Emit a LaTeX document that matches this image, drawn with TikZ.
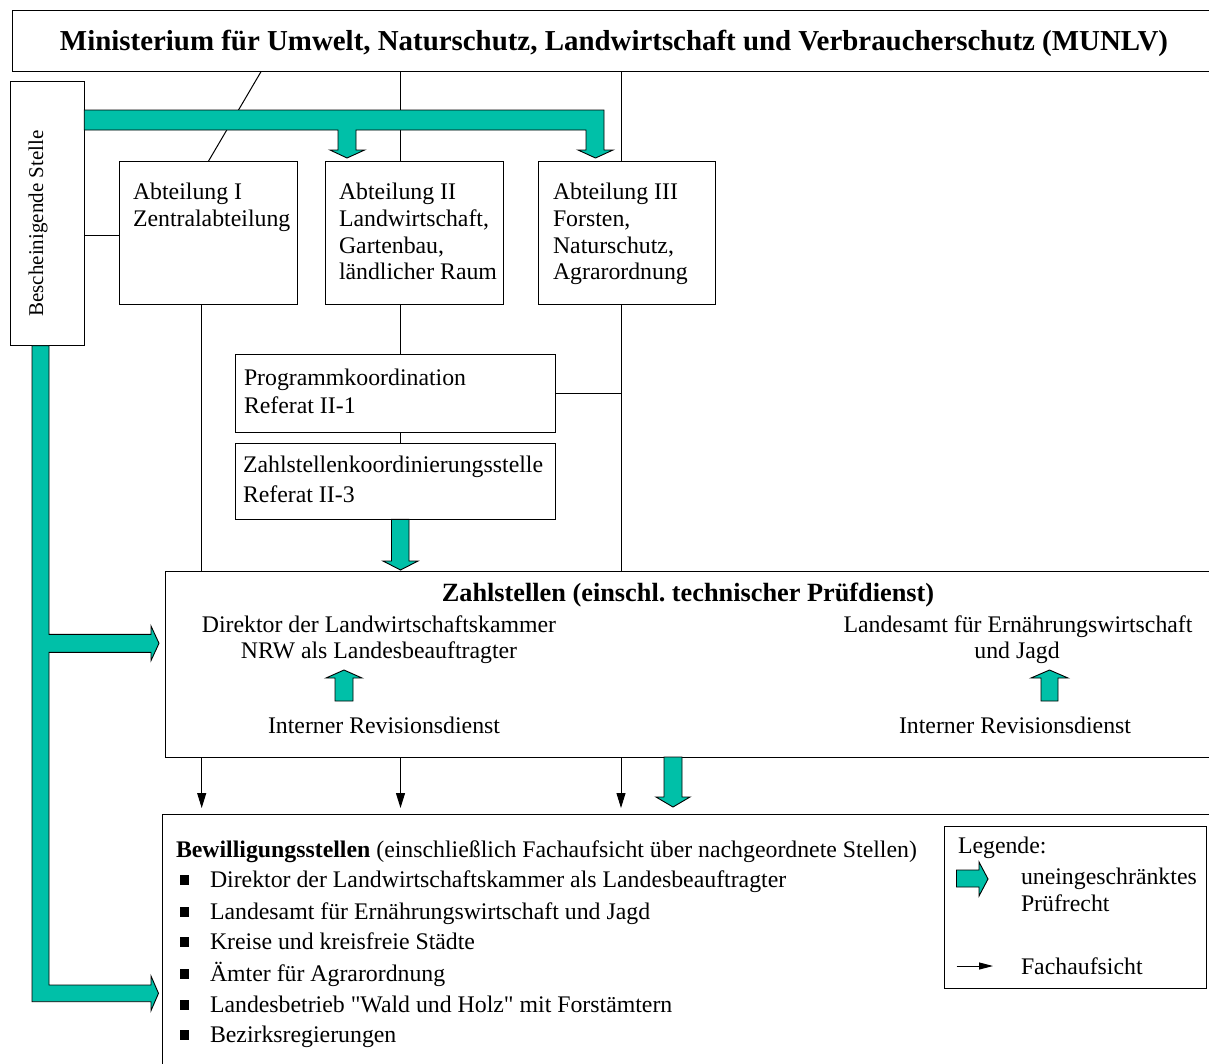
\documentclass[tikz,border=0pt]{standalone}
\usepackage{fontspec}
\setmainfont{Liberation Serif}
\usetikzlibrary{arrows.meta}
\definecolor{tealc}{RGB}{0,192,168}
\newcommand{\straightq}{\XeTeXglyph\XeTeXcharglyph"22\relax}
\begin{document}
\begin{tikzpicture}[x=1pt,y=-1pt,
  box/.style={draw=black, line width=1pt, fill=white, inner sep=0pt, outer sep=0pt, anchor=north west},
  txt/.style={inner sep=0pt, outer sep=0pt, font=\fontsize{23.8}{27}\selectfont},
  ttl/.style={inner sep=0pt, outer sep=0pt, font=\bfseries\fontsize{28.9}{32}\selectfont},
  zst/.style={inner sep=0pt, outer sep=0pt, font=\bfseries\fontsize{26.3}{30}\selectfont},
  rot/.style={inner sep=0pt, outer sep=0pt, font=\fontsize{21}{24}\selectfont},
  bul/.style={fill=black, inner sep=0pt, outer sep=0pt, minimum width=9.5pt, minimum height=10pt},
  ln/.style={line width=1pt},
  fa/.style={line width=1pt, -{Triangle[length=15pt,width=9pt]}},
  ba/.style={fill=tealc, draw=black, line width=0.9pt, line join=miter},
]
\clip (0,0) rectangle (1209,1063);
\fill[white] (0,0) rectangle (1209,1063);

% boxes
\node[box, minimum width=1210pt, minimum height=61pt] (min) at (12.6,10.7) {};
\node[box, minimum width=73.5pt, minimum height=264pt] (bes) at (10.7,81.7) {};
\node[box, minimum width=178pt, minimum height=142.7pt] (a1) at (119,161.3) {};
\node[box, minimum width=178.4pt, minimum height=142.7pt] (a2) at (325,161.3) {};
\node[box, minimum width=177.2pt, minimum height=142.7pt] (a3) at (538.5,161.3) {};
\node[box, minimum width=320.3pt, minimum height=78pt] (pk) at (235.3,354.3) {};
\node[box, minimum width=320.3pt, minimum height=76pt] (zk) at (235.3,443.3) {};
\node[box, minimum width=1050pt, minimum height=185.3pt] (zs) at (165.3,571.7) {};
\node[box, minimum width=1060pt, minimum height=260pt] (bw) at (162,814) {};
\node[box, minimum width=262pt, minimum height=162pt] (lg) at (944,826) {};

% helper coordinates
\coordinate (xA) at (201.7,0);
\coordinate (xB) at (400.5,0);
\coordinate (xC) at (621,0);
\coordinate (dg1) at (261,0);
\coordinate (dg2) at (208.4,0);
\coordinate (yH) at (0,235);

% thin connectors
\draw[ln] (min.south -| dg1) -- (a1.north -| dg2);
\draw[ln] (min.south -| xB) -- (a2.north -| xB);
\draw[ln] (min.south -| xC) -- (a3.north -| xC);
\draw[ln] (bes.east |- yH) -- (a1.west |- yH);
\draw[ln] (a1.south -| xA) -- (zs.north -| xA);
\draw[ln] (a2.south -| xB) -- (pk.north -| xB);
\draw[ln] (pk.south -| xB) -- (zk.north -| xB);
\draw[ln] (pk.east) -- (pk.east -| xC);
\draw[ln] (a3.south -| xC) -- (zs.north -| xC);
\draw[fa, shorten >=6pt] (zs.south -| xA) -- (bw.north -| xA);
\draw[fa, shorten >=6pt] (zs.south -| xB) -- (bw.north -| xB);
\draw[fa, shorten >=6pt] (zs.south -| xC) -- (bw.north -| xC);

% teal block arrows
\filldraw[ba] (84.2,110) -- (604,110) -- (604,150) -- (613,150) -- (595.5,158) -- (578,150) -- (586,150) -- (586,130)
  -- (356,130) -- (356,150) -- (364.6,150) -- (347,158) -- (330,150) -- (338,150) -- (338,130) -- (84.2,130) -- cycle;
\filldraw[ba] (32,345.7) -- (49,345.7) -- (49,634.3) -- (151,634.3) -- (151,626) -- (159,643.3) -- (151,660.6)
  -- (151,652.3) -- (49,652.3) -- (49,985) -- (151,985) -- (151,976) -- (158.5,993.3) -- (151,1010.6)
  -- (151,1001.7) -- (32,1001.7) -- cycle;
\filldraw[ba] (391.5,519.3) -- (409,519.3) -- (409,561) -- (418,561) -- (400.5,570) -- (383,561) -- (391.5,561) -- cycle;
\filldraw[ba] (664,757) -- (682,757) -- (682,797) -- (690,797) -- (673,807) -- (656,797) -- (664,797) -- cycle;
\filldraw[ba] (335,701) -- (353,701) -- (353,678) -- (362,678) -- (344,670) -- (326,678) -- (335,678) -- cycle;
\filldraw[ba] (1041,701) -- (1058,701) -- (1058,678) -- (1068,678) -- (1049.5,670) -- (1031,678) -- (1041,678) -- cycle;
\filldraw[ba] (956.5,870) -- (979,870) -- (979,862) -- (988,879) -- (979,896) -- (979,887) -- (956.5,887) -- cycle;

% legend thin arrow
\coordinate (lf1) at (956.5,966);
\coordinate (lf2) at (993,966);
\draw[ln, -{Triangle[length=14pt,width=7pt]}] (lf1) -- (lf2);

% texts
\node[ttl, anchor=base] (t0) at (614,50) {Ministerium für Umwelt, Naturschutz, Landwirtschaft und Verbraucherschutz (MUNLV)};
\node[rot, rotate=90, anchor=base] (tb) at (43,223.5) {Bescheinigende Stelle};

\node[txt, anchor=base west] (a1t1) at (133,199) {Abteilung I};
\node[txt, anchor=base west] (a1t2) at (133,226.5) {Zentralabteilung};

\node[txt, anchor=base west] (a2t1) at (339,199) {Abteilung II};
\node[txt, anchor=base west] (a2t2) at (339,226.5) {Landwirtschaft,};
\node[txt, anchor=base west] (a2t3) at (339,253) {Gartenbau,};
\node[txt, anchor=base west] (a2t4) at (339,279.5) {ländlicher Raum};

\node[txt, anchor=base west] (a3t1) at (553,199) {Abteilung III};
\node[txt, anchor=base west] (a3t2) at (553,226.5) {Forsten,};
\node[txt, anchor=base west] (a3t3) at (553,253) {Naturschutz,};
\node[txt, anchor=base west] (a3t4) at (553,279.5) {Agrarordnung};

\node[txt, anchor=base west] (pkt1) at (244,385) {Programmkoordination};
\node[txt, anchor=base west] (pkt2) at (244,413) {Referat II-1};

\node[txt, anchor=base west] (zkt1) at (243,472) {Zahlstellenkoordinierungsstelle};
\node[txt, anchor=base west] (zkt2) at (243,502) {Referat II-3};

\node[zst, anchor=base] (zst0) at (688,601) {Zahlstellen (einschl.\ technischer Prüfdienst)};
\node[txt, anchor=base] (zl1) at (379,632) {Direktor der Landwirtschaftskammer};
\node[txt, anchor=base] (zl2) at (379,658) {NRW als Landesbeauftragter};
\node[txt, anchor=base] (zl3) at (384,733) {Interner Revisionsdienst};
\node[txt, anchor=base] (zr1) at (1018,632) {Landesamt für Ernährungswirtschaft};
\node[txt, anchor=base] (zr2) at (1017,658) {und Jagd};
\node[txt, anchor=base] (zr3) at (1015,733) {Interner Revisionsdienst};

\node[txt, anchor=base west] (bwt) at (176,857) {\textbf{Bewilligungsstellen} (einschließlich Fachaufsicht über nachgeordnete Stellen)};
\node[bul] (b1) at (184.5,880) {};
\node[bul] (b2) at (184.5,912) {};
\node[bul] (b3) at (184.5,942) {};
\node[bul] (b4) at (184.5,974) {};
\node[bul] (b5) at (184.5,1005) {};
\node[bul] (b6) at (184.5,1035) {};
\node[txt, anchor=base west] (bt1) at (210,887) {Direktor der Landwirtschaftskammer als Landesbeauftragter};
\node[txt, anchor=base west] (bt2) at (210,919) {Landesamt für Ernährungswirtschaft und Jagd};
\node[txt, anchor=base west] (bt3) at (210,949) {Kreise und kreisfreie Städte};
\node[txt, anchor=base west] (bt4) at (210,981) {Ämter für Agrarordnung};
\node[txt, anchor=base west] (bt5) at (210,1012) {Landesbetrieb \straightq Wald und Holz\straightq{} mit Forstämtern};
\node[txt, anchor=base west] (bt6) at (210,1042) {Bezirksregierungen};

\node[txt, anchor=base west] (lg1) at (958,853) {Legende:};
\node[txt, anchor=base west] (lg2) at (1021,884) {uneingeschränktes};
\node[txt, anchor=base west] (lg3) at (1021,911) {Prüfrecht};
\node[txt, anchor=base west] (lg4) at (1021,974) {Fachaufsicht};
\end{tikzpicture}
\end{document}
